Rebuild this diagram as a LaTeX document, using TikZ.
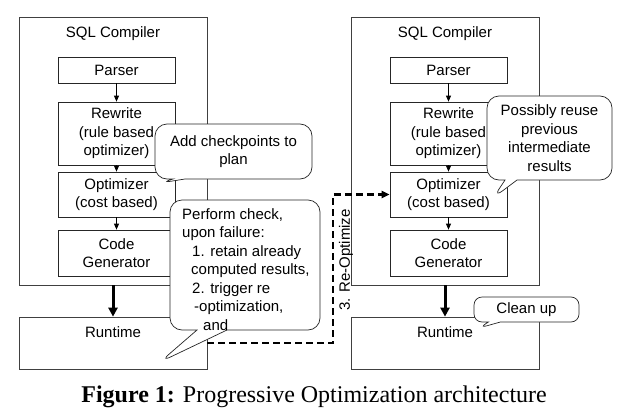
\documentclass[tikz,border=0pt]{standalone}
\usepackage{fontspec}
\setmainfont{Liberation Serif}
\newfontfamily\diagfont{Liberation Sans}
\usetikzlibrary{arrows.meta,shapes.callouts}

\newcommand{\diagtext}{\diagfont\fontsize{15}{18.5}\selectfont}

\tikzset{
  frame/.style={draw=black!75, line width=0.7pt, minimum width=188pt, inner sep=0pt},
  stage/.style={draw=black!85, line width=0.7pt, minimum width=117pt, inner sep=0pt,
    align=center, font=\diagtext},
  note/.style={rectangle callout, rounded corners=12pt, draw=black!85, fill=white,
    line width=0.7pt, inner sep=0pt, align=center, font=\diagtext,
    callout pointer width=12pt},
  flow/.style={-{Triangle[length=6pt,width=5pt]}, line width=0.8pt},
  bigflow/.style={-{Triangle[length=9pt,width=9pt]}, line width=3pt},
  reopt/.style={dash pattern=on 7pt off 4pt, line width=2.2pt,
    -{Triangle[length=8pt,width=7pt]}}
}

\begin{document}
\begin{tikzpicture}[x=1pt,y=-1pt]
    \useasboundingbox (0,0) rectangle (623,415);

    % the two compiler columns
    \foreach \c/\dx in {1/0,2/332} {
        \begin{scope}[xshift=\dx]
            \node[frame, minimum height=268pt,
                  label={[anchor=north, inner sep=0pt, yshift=-10pt, font=\diagtext]north:SQL Compiler}]
                  (comp\c) at (113,151) {};
            \node[stage, minimum height=26pt] (parse\c) at (116.5,70) {Parser};
            \node[stage, minimum height=63pt] (rew\c) at (116.5,133.5) {Rewrite\\(rule based\\optimizer)};
            \node[stage, minimum height=45pt] (opt\c) at (116.5,194.5) {Optimizer\\(cost based)};
            \node[stage, minimum height=46pt] (gen\c) at (116.5,253) {Code\\Generator};
            \node[frame, minimum height=52pt,
                  label={[anchor=north, inner sep=0pt, yshift=-9.5pt, font=\diagtext]north:Runtime}]
                  (rt\c) at (113,343) {};

            \draw[flow] (parse\c) -- (rew\c);
            \draw[flow] (rew\c) -- (opt\c);
            \draw[flow] (opt\c) -- (gen\c);
            \draw[bigflow] (comp\c.south) -- (rt\c.north);
        \end{scope}
    }

    % callouts
    \node[note, minimum width=157pt, minimum height=55pt,
          callout absolute pointer={(160,183)}] (chkpt) at (233.5,151.5) {Add checkpoints to\\plan};
    \node[note, minimum width=150pt, minimum height=130pt, callout pointer width=30pt,
          callout absolute pointer={(160,362)}] (check) at (245,265) {};
    \node[align=left, anchor=north west, inner sep=0pt, font=\diagtext] (checktxt) at (182,208)
        {Perform check,\\upon failure:\\\hspace*{10pt}1. retain already\\\hspace*{9pt}computed results,\\
         \hspace*{10pt}2. trigger re\\\hspace*{12pt}-optimization,\\\hspace*{21pt}and};
    \node[note, minimum width=125pt, minimum height=84pt,
          callout absolute pointer={(493,198)}] (reuse) at (549.5,138)
          {Possibly reuse\\previous\\intermediate\\results};
    \node[note, rounded corners=8pt, minimum width=105pt, minimum height=25pt,
          callout absolute pointer={(479,328)}] (clean) at (526.5,309.5) {Clean up};

    % re-optimize path
    \coordinate (turn) at (333,260);
    \draw[reopt] (rt1.east) -| (turn) |- (opt2.west);
    \node[rotate=90, inner sep=0pt, font=\diagtext] (reoptlbl) at (346,260) {3. Re-Optimize};

    \node[anchor=base east, inner sep=0pt, font=\fontsize{24}{28}\selectfont] (caption) at (547,402)
        {\textbf{Figure 1:} Progressive Optimization architecture};
\end{tikzpicture}
\end{document}
